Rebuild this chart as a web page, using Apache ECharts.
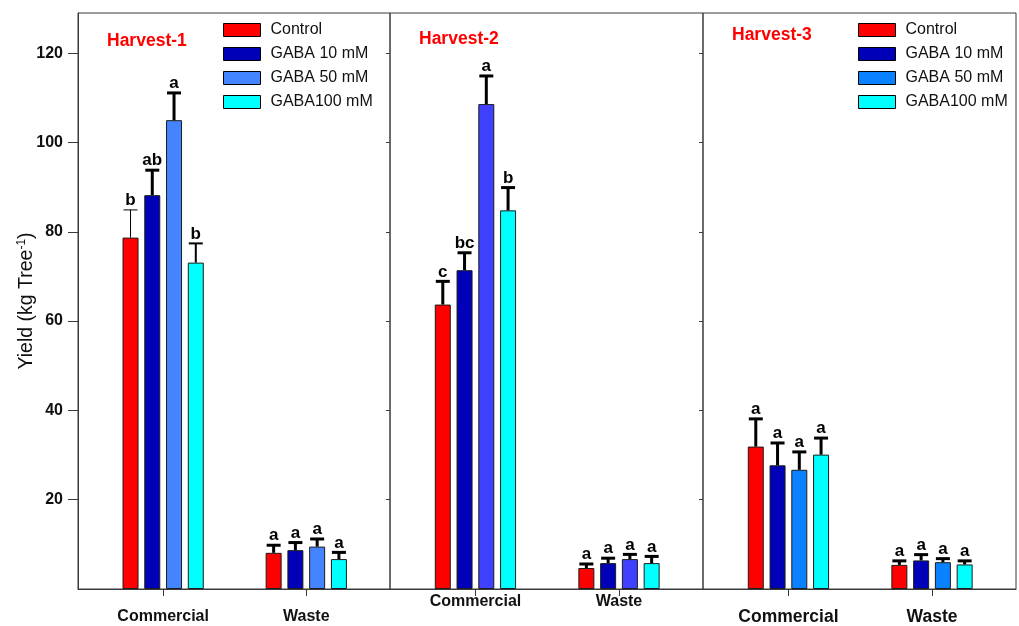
<!DOCTYPE html>
<html>
<head>
<meta charset="utf-8">
<script src="https://cdn.jsdelivr.net/npm/echarts@6/dist/echarts.min.js"></script>
<style>
  html, body { margin: 0; padding: 0; background: #ffffff; }
  #chart { width: 1019px; height: 626px; }
</style>
</head>
<body>
<div id="chart"></div>
<script>
// ---- data ----
const categories = ['Commercial', 'Waste'];
const treatments = ['Control', 'GABA 10 mM', 'GABA 50 mM', 'GABA100 mM'];
const harvests = ['Harvest-1', 'Harvest-2', 'Harvest-3'];
const yTicks = [20, 40, 60, 80, 100, 120];

// mean yield (kg tree-1) per treatment: [Commercial, Waste]
const h1Mean = [[78.7, 8.1], [88.2, 8.7], [105.0, 9.5], [73.1, 6.7]];
const h1Err = [[6.2, 1.7], [5.6, 1.7], [6.1, 1.7], [4.3, 1.5]];
const h1Letters = [['b', 'a'], ['ab', 'a'], ['a', 'a'], ['b', 'a']];

const h2Mean = [[63.7, 4.7], [71.4, 5.8], [108.6, 6.7], [84.8, 5.8]];
const h2Err = [[5.2, 0.9], [3.9, 1.1], [6.3, 1.05], [5.1, 1.5]];
const h2Letters = [['c', 'a'], ['bc', 'a'], ['a', 'a'], ['b', 'a']];

const h3Mean = [[31.9, 5.4], [27.7, 6.4], [26.7, 6.0], [30.1, 5.5]];
const h3Err = [[6.2, 0.9], [5.0, 1.3], [4.0, 0.8], [3.7, 0.8]];
const h3Letters = [['a', 'a'], ['a', 'a'], ['a', 'a'], ['a', 'a']];

// ---- styling ----
const FONT = 'Liberation Sans, Arial, Helvetica, sans-serif';
const AXIS_COLOR = '#3a3a3a';
const panelColors = [
  ['#ff0000', '#0000b8', '#4485ff', '#00ffff'],
  ['#ff0000', '#0000b8', '#4040ff', '#00ffff'],
  ['#ff0000', '#0000b8', '#0a82ff', '#00ffff']
];
const BAR_W = 16;
const BAR_GAP = 0.36;
const BAR_PITCH = BAR_W * (1 + BAR_GAP);

const panels = [
  { left: 78, width: 312, mean: h1Mean, err: h1Err, letters: h1Letters, catFont: 16, catMargin: 20, titleTop: 32 },
  { left: 390, width: 313, mean: h2Mean, err: h2Err, letters: h2Letters, catFont: 16, catMargin: 5, titleTop: 30 },
  { left: 703, width: 313, mean: h3Mean, err: h3Err, letters: h3Letters, catFont: 17.5, catMargin: 19, titleTop: 26 }
];
const GRID_TOP = 13;
const GRID_H = 576;
const Y_MAX = 129;

// thinner whiskers on a few bars: key = panel-treatment-category
const whiskerWidth = { '0-0-0': 1, '0-3-0': 2 };

const grids = [], xAxes = [], yAxes = [], series = [], titles = [];

panels.forEach((p, pi) => {
  grids.push({
    left: p.left, top: GRID_TOP, width: p.width, height: GRID_H,
    show: true, borderColor: AXIS_COLOR, borderWidth: 1, backgroundColor: 'transparent'
  });

  xAxes.push({
    type: 'value', gridIndex: pi, min: 0.405, max: 2.585,
    splitLine: { show: false },
    axisLine: { show: true, lineStyle: { color: AXIS_COLOR } },
    axisTick: { show: true, length: 7, customValues: [1, 2], lineStyle: { color: AXIS_COLOR } },
    axisLabel: {
      customValues: [1, 2], margin: p.catMargin,
      formatter: v => categories[Math.round(v) - 1] || '',
      color: '#111', fontFamily: FONT, fontWeight: 'bold', fontSize: p.catFont
    }
  });

  const barYIndex = yAxes.length;
  yAxes.push({
    type: 'value', gridIndex: pi, min: 0, max: Y_MAX, position: 'left',
    splitLine: { show: false },
    axisLine: { show: pi === 0, lineStyle: { color: AXIS_COLOR } },
    axisTick: { show: pi === 0, length: 10, customValues: yTicks, lineStyle: { color: AXIS_COLOR } },
    axisLabel: {
      show: pi === 0, customValues: yTicks, margin: 15,
      color: '#111', fontFamily: FONT, fontWeight: 'bold', fontSize: 16
    },
    name: pi === 0 ? '{t|Yield (kg Tree}{s|-1}{t|)}' : '',
    nameLocation: 'middle', nameGap: 40, nameRotate: 90, nameMoveOverlap: false,
    nameTextStyle: {
      rich: {
        t: { fontFamily: FONT, fontSize: 19.5, color: '#111', lineHeight: 22 },
        s: { fontFamily: FONT, fontSize: 12, color: '#111', verticalAlign: 'top', lineHeight: 22 }
      }
    }
  });
  if (pi < 2) {
    // inward ticks on the right border of the first two panels
    yAxes.push({
      type: 'value', gridIndex: pi, min: 0, max: Y_MAX, position: 'right',
      splitLine: { show: false },
      axisLine: { show: false },
      axisTick: { show: true, inside: true, length: 4, customValues: yTicks, lineStyle: { color: AXIS_COLOR } },
      axisLabel: { show: false }
    });
  }

  treatments.forEach((name, ti) => {
    series.push({
      type: 'bar', name: name, xAxisIndex: pi, yAxisIndex: barYIndex,
      barWidth: BAR_W, barGap: (BAR_GAP * 100) + '%',
      itemStyle: { color: panelColors[pi][ti], borderColor: '#1c1c1c', borderWidth: 1 },
      emphasis: { disabled: true },
      data: p.mean[ti].map((v, ci) => [ci + 1, v])
    });
  });

  // whiskers and significance letters
  const rows = [];
  p.mean.forEach((row, ti) => row.forEach((v, ci) => {
    rows.push([ci + 1, v, v + p.err[ti][ci], ti, ci]);
  }));
  series.push({
    type: 'custom', xAxisIndex: pi, yAxisIndex: barYIndex, z: 5, silent: true,
    data: rows,
    encode: { x: 0, y: [1, 2] },
    renderItem(params, api) {
      const r = rows[params.dataIndex];
      const ti = r[3], ci = r[4];
      const base = api.coord([r[0], r[1]]);
      const top = api.coord([r[0], r[2]]);
      const x = base[0] + (ti - 1.5) * BAR_PITCH;
      const w = whiskerWidth[pi + '-' + ti + '-' + ci] || 3;
      return {
        type: 'group',
        children: [
          { type: 'line', shape: { x1: x, y1: base[1], x2: x, y2: top[1] }, style: { stroke: '#000', lineWidth: w } },
          { type: 'line', shape: { x1: x - 7, y1: top[1], x2: x + 7, y2: top[1] }, style: { stroke: '#000', lineWidth: w } },
          {
            type: 'text', x: x, y: top[1] - 1,
            style: {
              text: p.letters[ti][ci], fill: '#000', align: 'center', verticalAlign: 'bottom',
              font: 'bold 17px ' + FONT
            }
          }
        ]
      };
    }
  });

  titles.push({
    text: harvests[pi], left: p.left + 29, top: p.titleTop, padding: 0,
    textStyle: { color: '#ff0000', fontFamily: FONT, fontWeight: 'bold', fontSize: 17.5 }
  });
});

function legendFor(pi, left, top) {
  return {
    orient: 'vertical', left: left, top: top, padding: 0,
    itemWidth: 37, itemHeight: 13, itemGap: 8, icon: 'rect',
    selectedMode: false,
    itemStyle: { borderColor: '#000', borderWidth: 1 },
    textStyle: { fontFamily: FONT, fontSize: 16, color: '#111', padding: [0, 0, 0, 5] },
    data: treatments.map((n, i) => ({ name: n, itemStyle: { color: panelColors[pi][i] } }))
  };
}

const chart = echarts.init(document.getElementById('chart'), null, { renderer: 'canvas' });
chart.setOption({
  animation: false,
  backgroundColor: '#ffffff',
  title: titles,
  legend: [legendFor(0, 223, 22), legendFor(2, 858, 22)],
  grid: grids,
  xAxis: xAxes,
  yAxis: yAxes,
  series: series
});
</script>
</body>
</html>
